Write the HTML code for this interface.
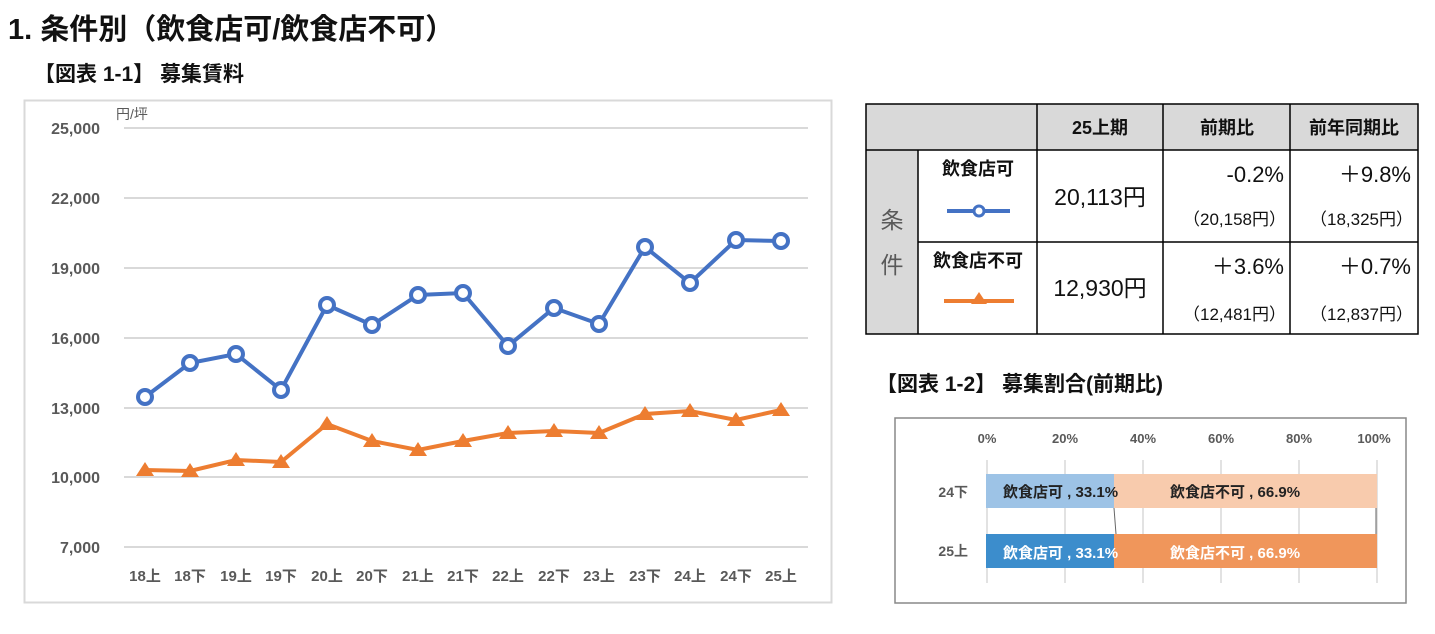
<!DOCTYPE html>
<html><head><meta charset="utf-8"><style>
body{margin:0;background:#fff;}
svg{display:block;font-family:"Liberation Sans","Noto Sans CJK JP",sans-serif;}
</style></head><body>
<svg width="1435" height="634" viewBox="0 0 1435 634" xmlns="http://www.w3.org/2000/svg">
<text x="8" y="39" font-size="29" font-weight="bold" fill="#111">1. 条件別（飲食店可/飲食店不可）</text>
<text x="34" y="81" font-size="21" font-weight="bold" fill="#111">【図表 1-1】 募集賃料</text>
<rect x="24.5" y="100.5" width="807" height="502" fill="#fff" stroke="#d9d9d9" stroke-width="2"/>
<g stroke="#d9d9d9" stroke-width="2">
<line x1="124" y1="128" x2="808" y2="128"/><line x1="124" y1="198" x2="808" y2="198"/>
<line x1="124" y1="268" x2="808" y2="268"/><line x1="124" y1="338" x2="808" y2="338"/>
<line x1="124" y1="408" x2="808" y2="408"/><line x1="124" y1="477" x2="808" y2="477"/>
<line x1="124" y1="547" x2="808" y2="547"/></g>
<g font-size="16" font-weight="bold" fill="#595959" text-anchor="end">
<text x="100" y="134">25,000</text><text x="100" y="204">22,000</text><text x="100" y="274">19,000</text>
<text x="100" y="344">16,000</text><text x="100" y="414">13,000</text><text x="100" y="483">10,000</text>
<text x="100" y="553">7,000</text></g>
<text x="116" y="119" font-size="14" fill="#595959">円/坪</text>
<g font-size="15" font-weight="bold" fill="#595959" text-anchor="middle">
<text x="145" y="581">18上</text><text x="190" y="581">18下</text><text x="236" y="581">19上</text><text x="281" y="581">19下</text><text x="327" y="581">20上</text><text x="372" y="581">20下</text><text x="418" y="581">21上</text><text x="463" y="581">21下</text><text x="508" y="581">22上</text><text x="554" y="581">22下</text><text x="599" y="581">23上</text><text x="645" y="581">23下</text><text x="690" y="581">24上</text><text x="736" y="581">24下</text><text x="781" y="581">25上</text></g>
<polyline fill="none" stroke="#4472c4" stroke-width="4" points="145,397 190,363 236,354 281,390 327,305 372,325 418,295 463,293 508,346 554,308 599,324 645,247 690,283 736,240 781,241"/>
<g fill="#fff" stroke="#4472c4" stroke-width="4">
<circle cx="145" cy="397" r="7"/><circle cx="190" cy="363" r="7"/><circle cx="236" cy="354" r="7"/><circle cx="281" cy="390" r="7"/><circle cx="327" cy="305" r="7"/><circle cx="372" cy="325" r="7"/><circle cx="418" cy="295" r="7"/><circle cx="463" cy="293" r="7"/><circle cx="508" cy="346" r="7"/><circle cx="554" cy="308" r="7"/><circle cx="599" cy="324" r="7"/><circle cx="645" cy="247" r="7"/><circle cx="690" cy="283" r="7"/><circle cx="736" cy="240" r="7"/><circle cx="781" cy="241" r="7"/></g>
<polyline fill="none" stroke="#ed7d31" stroke-width="4" points="145,470 190,471 236,460 281,462 327,424 372,441 418,450 463,441 508,433 554,431 599,433 645,414 690,411 736,420 781,410"/>
<g fill="#ed7d31">
<path d="M145,462l9,14h-18z"/><path d="M190,463l9,14h-18z"/><path d="M236,452l9,14h-18z"/><path d="M281,454l9,14h-18z"/><path d="M327,416l9,14h-18z"/><path d="M372,433l9,14h-18z"/><path d="M418,442l9,14h-18z"/><path d="M463,433l9,14h-18z"/><path d="M508,425l9,14h-18z"/><path d="M554,423l9,14h-18z"/><path d="M599,425l9,14h-18z"/><path d="M645,406l9,14h-18z"/><path d="M690,403l9,14h-18z"/><path d="M736,412l9,14h-18z"/><path d="M781,402l9,14h-18z"/></g>
<!-- table -->
<rect x="866" y="104" width="552" height="46" fill="#d9d9d9"/>
<rect x="866" y="150" width="52" height="184" fill="#d9d9d9"/>
<g stroke="#000" stroke-width="1.5" fill="none">
<rect x="866" y="104" width="552" height="230"/>
<line x1="866" y1="150" x2="1418" y2="150"/><line x1="918" y1="242" x2="1418" y2="242"/>
<line x1="918" y1="150" x2="918" y2="334"/><line x1="1037" y1="104" x2="1037" y2="334"/>
<line x1="1163" y1="104" x2="1163" y2="334"/><line x1="1290" y1="104" x2="1290" y2="334"/></g>
<g font-size="18" font-weight="bold" fill="#111" text-anchor="middle">
<text x="1100" y="134">25上期</text><text x="1227" y="134">前期比</text><text x="1354" y="134">前年同期比</text>
<text x="978" y="175">飲食店可</text><text x="978" y="267">飲食店不可</text></g>
<text x="892" y="228" font-size="23" fill="#595959" text-anchor="middle">条</text>
<text x="892" y="273" font-size="23" fill="#595959" text-anchor="middle">件</text>
<line x1="947" y1="211" x2="1010" y2="211" stroke="#4472c4" stroke-width="4"/>
<circle cx="979" cy="211" r="5" fill="#fff" stroke="#4472c4" stroke-width="3"/>
<line x1="944" y1="301" x2="1014" y2="301" stroke="#ed7d31" stroke-width="4"/>
<path d="M979,292l8,12h-16z" fill="#ed7d31"/>
<g font-size="23" fill="#111" text-anchor="middle"><text x="1100" y="205">20,113円</text><text x="1100" y="296">12,930円</text></g>
<g font-size="22" fill="#111" text-anchor="end">
<text x="1284" y="182">-0.2%</text><text x="1411" y="182">＋9.8%</text>
<text x="1284" y="274">＋3.6%</text><text x="1411" y="274">＋0.7%</text></g>
<g font-size="17" fill="#111" text-anchor="end">
<text x="1286" y="225">（20,158円）</text><text x="1413" y="225">（18,325円）</text>
<text x="1286" y="320">（12,481円）</text><text x="1413" y="320">（12,837円）</text></g>
<!-- bar chart -->
<text x="876" y="391" font-size="21" font-weight="bold" fill="#111">【図表 1-2】 募集割合(前期比)</text>
<rect x="895" y="418" width="511" height="185" fill="#fff" stroke="#888" stroke-width="1.5"/>
<g stroke="#d9d9d9" stroke-width="1.5">
<line x1="987" y1="460" x2="987" y2="583"/><line x1="1065" y1="460" x2="1065" y2="583"/><line x1="1143" y1="460" x2="1143" y2="583"/><line x1="1221" y1="460" x2="1221" y2="583"/><line x1="1299" y1="460" x2="1299" y2="583"/><line x1="1377" y1="460" x2="1377" y2="583"/></g>
<g font-size="13" font-weight="bold" fill="#595959" text-anchor="middle">
<text x="987" y="443">0%</text><text x="1065" y="443">20%</text><text x="1143" y="443">40%</text><text x="1221" y="443">60%</text><text x="1299" y="443">80%</text><text x="1374" y="443">100%</text></g>
<rect x="986" y="474" width="128" height="34" fill="#9dc3e6"/>
<rect x="1114" y="474" width="263" height="34" fill="#f8cbad"/>
<rect x="986" y="534" width="128" height="34" fill="#3c8dcc"/>
<rect x="1114" y="534" width="263" height="34" fill="#f0965b"/>
<line x1="1114" y1="508" x2="1116" y2="534" stroke="#666"/><line x1="1376" y1="508" x2="1376" y2="534" stroke="#666"/>
<g font-size="14" font-weight="bold" fill="#595959" text-anchor="end"><text x="968" y="497">24下</text><text x="968" y="556">25上</text></g>
<g font-size="15" font-weight="bold">
<text x="1003" y="497" fill="#222">飲食店可 , 33.1%</text><text x="1170" y="497" fill="#222">飲食店不可 , 66.9%</text>
<text x="1003" y="558" fill="#fff">飲食店可 , 33.1%</text><text x="1170" y="558" fill="#fff">飲食店不可 , 66.9%</text></g>
</svg>
</body></html>
